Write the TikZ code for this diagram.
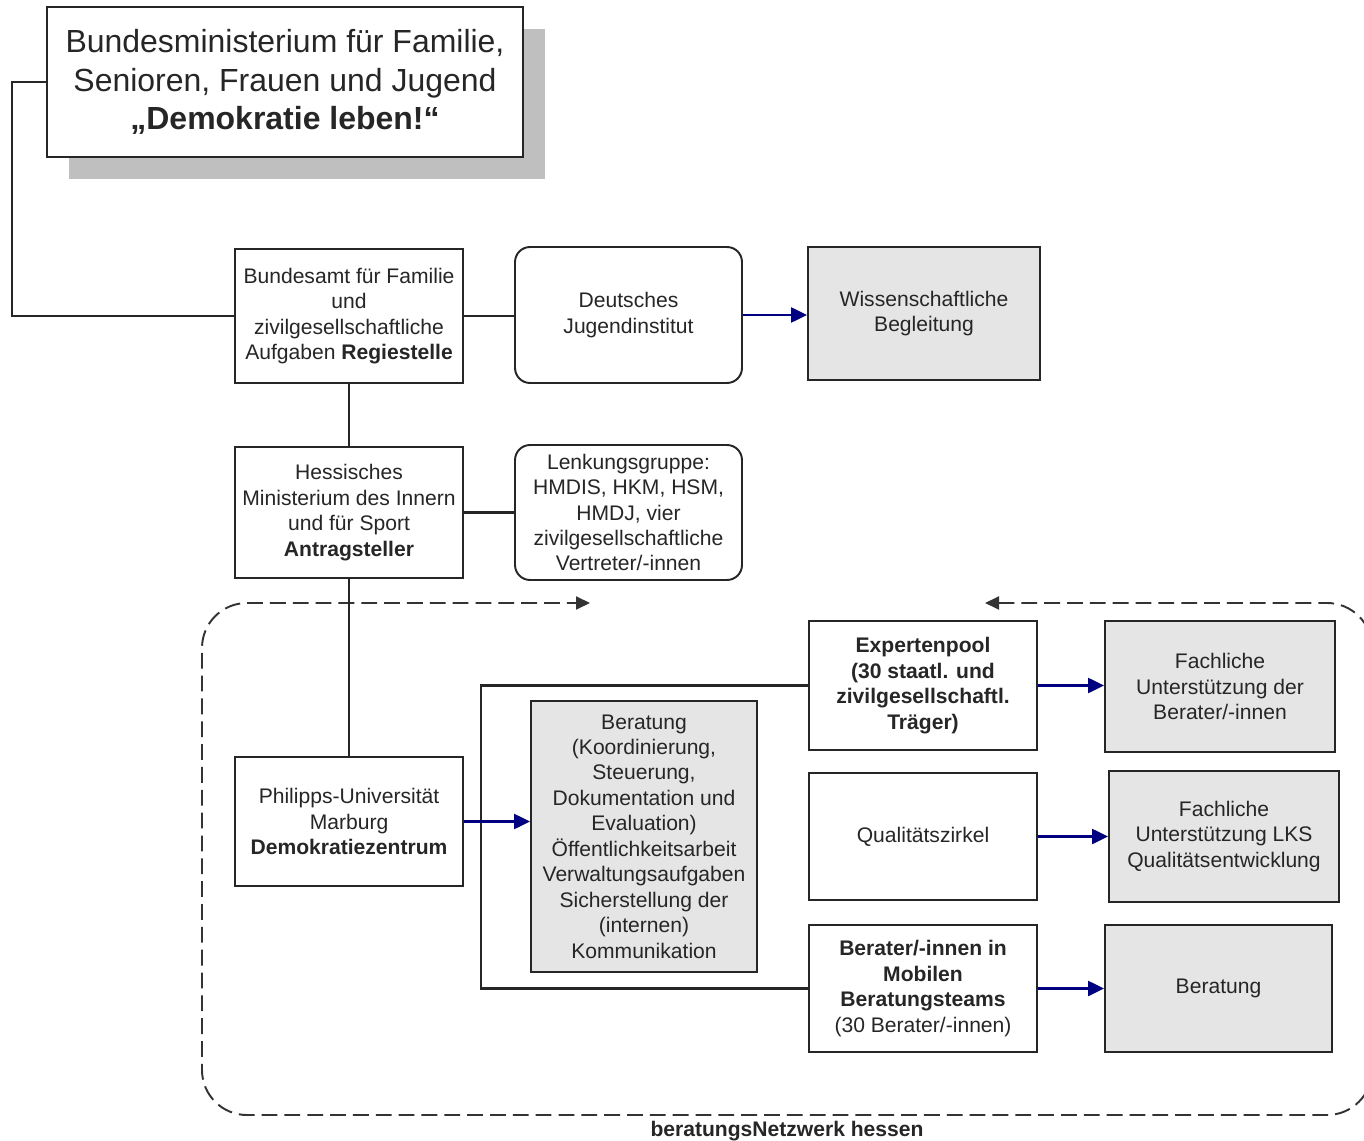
\documentclass[tikz,border=0pt]{standalone}
\usepackage{fontspec}
\setmainfont{Liberation Sans}
\usetikzlibrary{arrows.meta,shadows}

\newcommand{\kleinschrift}{\fontsize{12}{14.5}\selectfont}
\newcommand{\grossschrift}{\fontsize{18.2}{21.8}\selectfont}

\tikzset{
  box/.style={draw=black!85, line width=1.1pt, fill=white, align=center, text=black!85,
    inner sep=2pt, minimum width=4.56cm, font=\kleinschrift},
  graybox/.style={box, fill=black!10},
  roundbox/.style={box, rounded corners=0.3cm},
  link/.style={draw=black!85, line width=1.2pt},
  bluearrow/.style={draw=blue!50!black, line width=1.3pt,
    -{Triangle[length=0.32cm,width=0.3cm]}},
  netzrahmen/.style={draw=black!80, line width=1.1pt, dash pattern=on 9pt off 4pt,
    rounded corners=0.9cm,
    {Triangle[length=0.28cm,width=0.26cm]}-{Triangle[length=0.28cm,width=0.26cm]}}
}

\begin{document}
\begin{tikzpicture}[x=0.02cm,y=-0.02cm]
  \useasboundingbox (0,0) rectangle (1364,1141);

  \coordinate (rahmenrechts) at (985,603);
  \coordinate (rahmenlinks) at (590,603);
  \draw[netzrahmen] (rahmenrechts) -- (1372,603) -- (1372,1115) -- (202,1115) -- (202,603) -- (rahmenlinks);
  \node[font=\kleinschrift\bfseries, text=black!85] (netz) at (787,1131) {beratungsNetzwerk hessen};

  \node[box, minimum width=9.52cm, minimum height=3cm, font=\grossschrift,
    drop shadow={shadow xshift=0.44cm, shadow yshift=-0.44cm, fill=black!25, opacity=1}]
    (bmf) at (285,82) {Bundesministerium für Familie,\\Senioren, Frauen und Jugend\\\textbf{„Demokratie leben!“}};

  \node[box, minimum height=2.68cm] (regie) at (349,316)
    {Bundesamt für Familie\\und\\zivilgesellschaftliche\\Aufgaben \textbf{Regiestelle}};
  \node[roundbox, minimum width=4.54cm, minimum height=2.72cm] (dji) at (628.5,315)
    {Deutsches\\Jugendinstitut};
  \node[graybox, minimum width=4.64cm, minimum height=2.66cm] (wiss) at (924,313.5)
    {Wissenschaftliche\\Begleitung};

  \node[box, minimum height=2.62cm] (hmdis) at (349,512.5)
    {Hessisches\\Ministerium des Innern\\und für Sport\\\textbf{Antragsteller}};
  \node[roundbox, minimum width=4.54cm, minimum height=2.7cm] (lenk) at (628.5,512.5)
    {Lenkungsgruppe:\\HMDIS, HKM, HSM,\\HMDJ, vier\\zivilgesellschaftliche\\Vertreter/-innen};

  \node[box, minimum height=2.58cm] (pum) at (349,821.5)
    {Philipps-Universität\\Marburg\\\textbf{Demokratiezentrum}};
  \node[graybox, minimum width=4.52cm, minimum height=5.42cm] (ber) at (644,836.5)
    {Beratung\\(Koordinierung,\\Steuerung,\\Dokumentation und\\Evaluation)\\Öffentlichkeitsarbeit\\Verwaltungsaufgaben\\Sicherstellung der\\(internen)\\Kommunikation};

  \node[box, minimum height=2.58cm, font=\kleinschrift\bfseries] (expert) at (923,685.5)
    {Expertenpool\\(30 staatl. und\\zivilgesellschaftl.\\Träger)};
  \node[box, minimum height=2.54cm] (qz) at (923,836.5) {Qualitätszirkel};
  \node[box, minimum height=2.54cm] (mbt) at (923,988.5)
    {\textbf{Berater/-innen in}\\\textbf{Mobilen}\\\textbf{Beratungsteams}\\(30 Berater/-innen)};

  \node[graybox, minimum width=4.6cm, minimum height=2.62cm] (fu1) at (1220,686.5)
    {Fachliche\\Unterstützung der\\Berater/-innen};
  \node[graybox, minimum width=4.6cm, minimum height=2.62cm] (fu2) at (1224,836.5)
    {Fachliche\\Unterstützung LKS\\Qualitätsentwicklung};
  \node[graybox, minimum width=4.54cm, minimum height=2.54cm] (bera) at (1218.5,988.5)
    {Beratung};

  \draw[link] (bmf.west) -- ++(-34,0) |- (regie.west);
  \draw[link] (regie.east) -- (regie.east -| dji.west);
  \draw[link] (regie.south) -- (hmdis.north);
  \draw[link] (hmdis.east) -- (lenk.west);
  \draw[link] (hmdis.south) -- (pum.north);
  \draw[link] (expert.west) -- ++(-327,0) |- (mbt.west);

  \draw[bluearrow] (dji.east) -- (dji.east -| wiss.west);
  \draw[bluearrow] (pum.east) -- (pum.east -| ber.west);
  \draw[bluearrow] (expert.east) -- (expert.east -| fu1.west);
  \draw[bluearrow] (qz.east) -- (qz.east -| fu2.west);
  \draw[bluearrow] (mbt.east) -- (mbt.east -| bera.west);
\end{tikzpicture}
\end{document}
